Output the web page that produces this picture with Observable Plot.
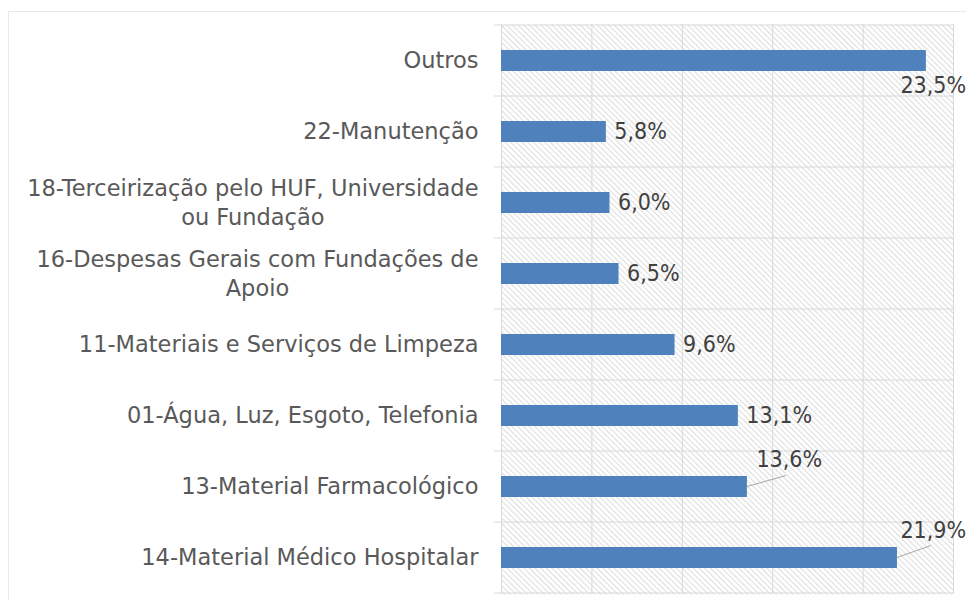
<!DOCTYPE html>
<html>
<head>
<meta charset="utf-8">
<script src="https://cdn.jsdelivr.net/npm/d3@7"></script>
<script src="https://cdn.jsdelivr.net/npm/@observablehq/plot@0.6"></script>
<style>
  html, body { margin: 0; padding: 0; background: #fff; }
  #wrap { position: relative; width: 966px; height: 600px; overflow: hidden; }
  #border { position: absolute; left: 8px; top: 11px; width: 1000px; height: 700px; border: 1px solid #e8e8e8; box-sizing: border-box; }
  #chart { position: absolute; left: 0; top: 0; }
</style>
</head>
<body>
<div id="wrap"><div id="border"></div><div id="chart"></div></div>
<script>
const categories = [
  "Outros",
  "22-Manutenção",
  "18-Terceirização pelo HUF, Universidade ou Fundação",
  "16-Despesas Gerais com Fundações de Apoio",
  "11-Materiais e Serviços de Limpeza",
  "01-Água, Luz, Esgoto, Telefonia",
  "13-Material Farmacológico",
  "14-Material Médico Hospitalar"
];
const tickLabels = [
  "Outros",
  "22-Manutenção",
  "18-Terceirização pelo HUF, Universidade\nou Fundação",
  "16-Despesas Gerais com Fundações de\nApoio",
  "11-Materiais e Serviços de Limpeza",
  "01-Água, Luz, Esgoto, Telefonia",
  "13-Material Farmacológico",
  "14-Material Médico Hospitalar"
];
const values = [23.5, 5.8, 6.0, 6.5, 9.6, 13.1, 13.6, 21.9];
const xTicks = [0, 5, 10, 15, 20, 25];

const data = categories.map((c, i) => ({cat: c, label: tickLabels[i], value: values[i]}));
const fmt = v => v.toFixed(1).replace(".", ",") + "%";

const below = new Set(["Outros"]);
const leader = new Set(["13-Material Farmacológico", "14-Material Médico Hospitalar"]);

const LABEL_FONT = "'DejaVu Sans', sans-serif";
const VALUE_FONT = "'DejaVu Sans Condensed', 'DejaVu Sans', sans-serif";

const plot = Plot.plot({
  width: 966,
  height: 600,
  marginLeft: 501,
  marginRight: 13,
  marginTop: 24,
  marginBottom: 6,
  style: {fontFamily: LABEL_FONT, background: "transparent"},
  x: {domain: [0, 25], axis: null},
  y: {domain: categories, padding: 0, axis: null},
  marks: [
    Plot.frame({fill: "url(#hatch)", stroke: null}),
    Plot.gridX(xTicks, {stroke: "#d9d9d9", strokeOpacity: 1, strokeWidth: 1}),
    Plot.barX(data, {x: "value", y: "cat", fill: "#4f81bd", insetTop: 25, insetBottom: 25}),
    Plot.text(data, {x: 0, y: "cat", text: "label", dx: -23, dy: -2, textAnchor: "end", fontSize: 22.5, lineHeight: 1.3, fill: "#595959", fontFamily: LABEL_FONT}),
    Plot.text(data.filter(d => !below.has(d.cat) && !leader.has(d.cat)), {x: "value", y: "cat", text: d => fmt(d.value), dx: 8, textAnchor: "start", fontSize: 23, fill: "#404040", fontFamily: VALUE_FONT}),
    Plot.text(data.filter(d => below.has(d.cat)), {x: "value", y: "cat", text: d => fmt(d.value), dx: -26, dy: 25, textAnchor: "start", fontSize: 23, fill: "#404040", fontFamily: VALUE_FONT}),
    Plot.text(data.filter(d => d.cat === "13-Material Farmacológico"), {x: "value", y: "cat", text: d => fmt(d.value), dx: 9, dy: -27, textAnchor: "start", fontSize: 23, fill: "#404040", fontFamily: VALUE_FONT}),
    Plot.text(data.filter(d => d.cat === "14-Material Médico Hospitalar"), {x: "value", y: "cat", text: d => fmt(d.value), dx: 3, dy: -27, textAnchor: "start", fontSize: 23, fill: "#404040", fontFamily: VALUE_FONT})
  ]
});

const svg = d3.select(plot);
const defs = svg.insert("defs", ":first-child");
const P = 4;
const pat = defs.append("pattern")
  .attr("id", "hatch")
  .attr("patternUnits", "userSpaceOnUse")
  .attr("width", P).attr("height", P)
  .attr("patternTransform", "rotate(-45)");
pat.append("rect").attr("width", P).attr("height", P).attr("fill", "#ffffff");
pat.append("line").attr("x1", 0.6).attr("y1", 0).attr("x2", 0.6).attr("y2", P)
  .attr("stroke", "#dedede").attr("stroke-width", 1.1);

// category boundaries (horizontal gridlines + tick marks) via the plot's scales
const xs = plot.scale("x");
const ys = plot.scale("y");
const bw = ys.bandwidth;
const x0 = xs.apply(0), x1 = xs.apply(25);
const bounds = categories.map(c => ys.apply(c)).concat([ys.apply(categories[categories.length - 1]) + bw]);
const g = svg.append("g").attr("stroke", "#d9d9d9").attr("stroke-width", 1);
bounds.forEach(yb => {
  g.append("line").attr("x1", x0 - 7).attr("x2", x1).attr("y1", yb).attr("y2", yb);
});
svg.selectAll("g[aria-label='bar'], g[aria-label='text']").raise();

// leader lines
const lg = svg.append("g").attr("stroke", "#a6a6a6").attr("stroke-width", 1);
const leaderEnds = {"13-Material Farmacológico": [39, -11], "14-Material Médico Hospitalar": [34, -12]};
data.filter(d => leader.has(d.cat)).forEach(d => {
  const bx = xs.apply(d.value), by = ys.apply(d.cat) + bw / 2;
  const [ex, ey] = leaderEnds[d.cat];
  lg.append("line").attr("x1", bx).attr("y1", by).attr("x2", bx + ex).attr("y2", by + ey);
});

document.getElementById("chart").appendChild(plot);

// center wrapped category labels as a block whose right edge stays aligned
const labelGroup = plot.querySelectorAll("g[aria-label='text']")[0];
labelGroup.querySelectorAll("text").forEach(t => {
  if (t.querySelectorAll("tspan").length > 1) {
    const w = t.getBBox().width;
    t.setAttribute("text-anchor", "middle");
    const tr = t.getAttribute("transform") || "";
    t.setAttribute("transform", tr + ` translate(${-w / 2},0)`);
  }
});
</script>
</body>
</html>
